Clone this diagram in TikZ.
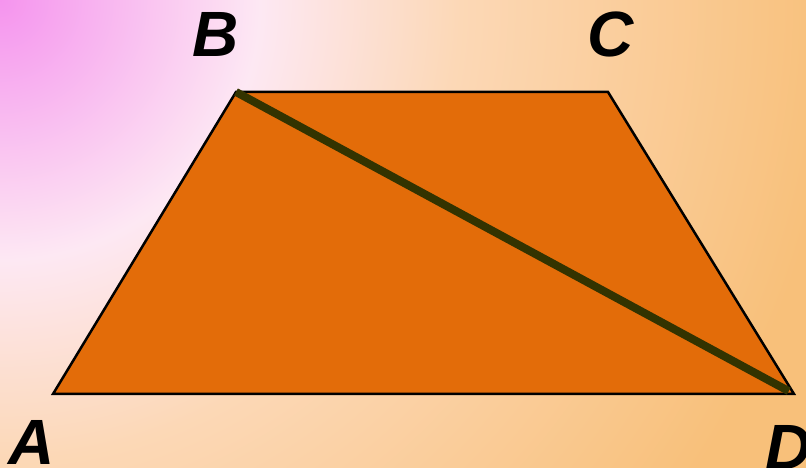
\documentclass[tikz,border=0pt]{standalone}
\usepackage{fontspec}
\setmainfont{Liberation Sans}
\usetikzlibrary{calc}
\definecolor{bgpink}{HTML}{F594EE}
\definecolor{bgwhite}{HTML}{FDE8F3}
\definecolor{bgpeach}{HTML}{FCD8B6}
\definecolor{bgorange}{HTML}{F8C07A}
\definecolor{trapfill}{HTML}{E36C09}
\definecolor{diagcol}{HTML}{333300}
\pgfdeclareradialshading{bgrad}{\pgfpoint{0bp}{0bp}}{%
  color(0bp)=(bgpink); color(6.5bp)=(bgwhite); color(11.5bp)=(bgpeach);
  color(21bp)=(bgorange); color(50bp)=(bgorange)}
\tikzset{
  vertexlabel/.style={
    anchor=base,
    inner sep=0pt,
    font=\fontsize{64bp}{70bp}\selectfont\bfseries\itshape
  },
  trapezoid/.style={
    draw=black,
    line width=2.5bp,
    fill=trapfill,
    line join=miter
  },
  diagonal/.style={
    draw=diagcol,
    line width=8bp
  }
}
\begin{document}
\begin{tikzpicture}[x=1bp, y=1bp]
  \useasboundingbox (0,0) rectangle (806,468);
  % Fond
  \begin{scope}
    \clip (0,0) rectangle (806,468);
    \shade[shading=bgrad] (0,468) circle (1000);
  \end{scope}

  % Sommets
  \coordinate (A) at (53,74);
  \coordinate (B) at (236,376);
  \coordinate (C) at (608,376);
  \coordinate (D) at (794,74);

  % Trapeze et diagonale
  \path[trapezoid] (A) -- (B) -- (C) -- (D) -- cycle;
  \draw[diagonal, shorten >=6bp] (B) -- (D);

  % Lettres
  \node[vertexlabel] (labA) at (32,3) {A};
  \node[vertexlabel] (labB) at (216,411) {B};
  \node[vertexlabel] (labC) at (611,411) {C};
  \node[vertexlabel] (labD) at (789,-2) {D};
\end{tikzpicture}
\end{document}
